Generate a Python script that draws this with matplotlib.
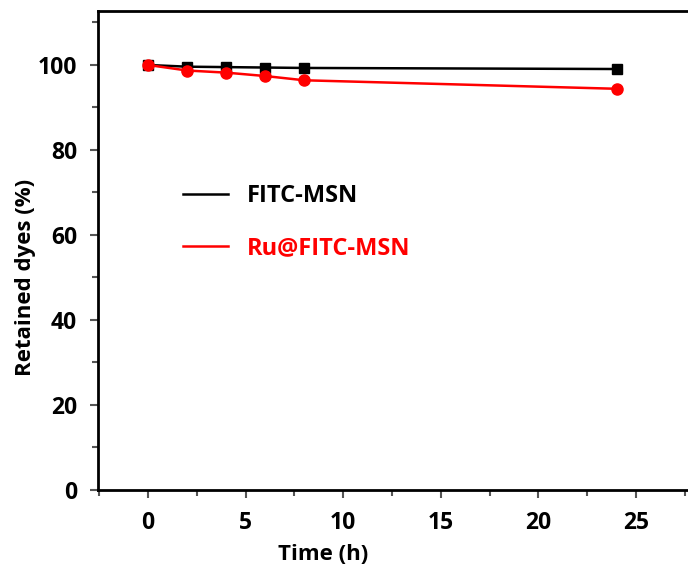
import numpy as np
import matplotlib.pyplot as plt
from matplotlib.lines import Line2D
from matplotlib.ticker import MultipleLocator

plt.rcParams['font.family'] = ['Open Sans', 'DejaVu Sans']
plt.rcParams['font.weight'] = 'bold'

time_h = [0, 2, 4, 6, 8, 24]
fitc_msn = [100.0, 99.6, 99.5, 99.4, 99.3, 99.05]
ru_fitc_msn = [100.0, 98.7, 98.2, 97.4, 96.4, 94.4]

if __name__ == '__main__':
    fig = plt.figure(figsize=(6.88, 5.74), dpi=100)
    ax = fig.add_axes([98 / 688, 84 / 574, 1 - 98 / 688, (490 - 11) / 574])

    ax.plot(time_h, fitc_msn, color="k", lw=1.8, marker="s", ms=7.5)
    ax.plot(time_h, ru_fitc_msn, color="red", lw=1.8, marker="o", ms=8)

    ax.set_xlim(-2.56, 27.66)
    ax.set_ylim(0, 112.7)
    ax.xaxis.set_major_locator(MultipleLocator(5))
    ax.xaxis.set_minor_locator(MultipleLocator(2.5))
    ax.yaxis.set_major_locator(MultipleLocator(20))
    ax.yaxis.set_minor_locator(MultipleLocator(10))
    ax.tick_params(which="both", direction="out", width=1.5, colors="#555555",
                   labelcolor="k", labelsize=16.5)
    ax.tick_params(which="major", length=6)
    ax.tick_params(which="minor", length=4)
    ax.tick_params(axis="x", pad=9)
    ax.tick_params(axis="y", pad=9)
    for s in ["left", "bottom", "top"]:
        ax.spines[s].set_linewidth(2)
    ax.spines["right"].set_visible(False)

    ax.set_xlabel("Time (h)", fontsize=16, fontweight="bold")
    ax.set_ylabel("Retained dyes (%)", fontsize=16, fontweight="bold")
    ax.xaxis.set_label_coords(0.381, -0.113)
    ax.yaxis.set_label_coords(-0.105, 0.443)

    handles = [Line2D([], [], color="k", lw=1.8),
               Line2D([], [], color="red", lw=1.8)]
    leg = ax.legend(handles, ["FITC-MSN", "Ru@FITC-MSN"], frameon=False,
                    loc="center left", bbox_to_anchor=(0.144, 0.5595),
                    borderaxespad=0, borderpad=0,
                    fontsize=17, handlelength=1.9, handletextpad=0.8,
                    labelspacing=1.2, labelcolor="linecolor")
    for t in leg.get_texts():
        t.set_fontweight("bold")

    fig.savefig("out.png", dpi=100)
